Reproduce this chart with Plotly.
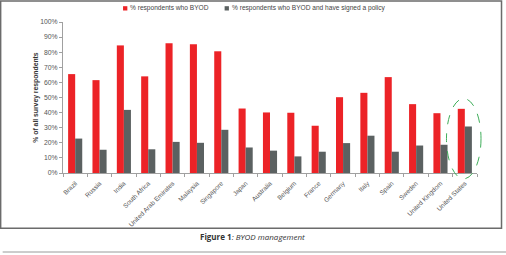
import plotly.graph_objects as go

countries = ["Brazil", "Russia", "India", "South Africa", "United Arab Emirates", "Malaysia",
             "Singapore", "Japan", "Australia", "Belgium", "France", "Germany", "Italy",
             "Spain", "Sweden", "United Kingdom", "United States"]
byod = [65.5, 61.5, 84.5, 64, 86, 85.2, 80.6, 42.7, 40.1, 39.9, 31.3, 50.2, 53.1,
        63.5, 45.6, 39.6, 42.5]
byod_policy = [22.8, 15.4, 41.8, 15.7, 20.6, 20.0, 28.6, 16.9, 14.8, 11.0, 14.1, 19.8,
               24.7, 14.1, 18.2, 18.7, 30.8]
series_names = ["% respondents who BYOD", "% respondents who BYOD and have signed a policy"]
series_colors = ["#ec2327", "#5b6161"]
caption_bold = "Figure 1"
caption_rest = ": BYOD management"

W, H = 506, 255
L, R, T, B = 63.3, 477.0, 21.7, 172.7
pw, ph = R - L, B - T


def px(x):
    return (x - L) / pw


def py(y):
    return (B - y) / ph


fig = go.Figure()
for vals, name, col in zip([byod, byod_policy], series_names, series_colors):
    fig.add_trace(go.Bar(x=countries, y=vals, name=name, showlegend=False,
                         marker=dict(color=col, line=dict(width=0))))

font_family = "Liberation Sans, Arial, sans-serif"

shapes = [
    # outer frame
    dict(type="rect", xref="paper", yref="paper", x0=px(1), x1=px(501.5), y0=py(228), y1=py(0.8),
         line=dict(color="#6b6b6b", width=1.5), fillcolor="rgba(0,0,0,0)", layer="below"),
    # bottom separator
    dict(type="line", xref="paper", yref="paper", x0=px(3), x1=px(506), y0=py(251.7), y1=py(251.7),
         line=dict(color="#9a9a9a", width=1)),
    # green highlight ellipse
    dict(type="circle", xref="paper", yref="paper", x0=px(446.5), x1=px(481), y0=py(178.5), y1=py(98.3),
         line=dict(color="#3fae5a", width=1, dash="dash"), fillcolor="rgba(0,0,0,0)"),
]

annotations = [
    dict(xref="paper", yref="paper", x=px(252.5), y=py(236.5), xanchor="center", yanchor="middle",
         showarrow=False,
         text="<b>" + caption_bold + "</b><i>" + caption_rest + "</i>",
         font=dict(family="Open Sans, Lato, sans-serif", size=8, color="#333333")),
]

# manual legend (small square swatches like the original)
legend_marker_x = [123.3, 224.8]
for mx, name, col in zip(legend_marker_x, series_names, series_colors):
    shapes.append(dict(type="rect", xref="paper", yref="paper", x0=px(mx), x1=px(mx + 4.3),
                       y0=py(10.2), y1=py(5.9), line=dict(width=0), fillcolor=col))
    annotations.append(dict(xref="paper", yref="paper", x=px(mx + 5.2), y=py(8), xanchor="left",
                            yanchor="middle", showarrow=False, text=name,
                            font=dict(family=font_family, size=6.6, color="#444444")))

fig.update_layout(
    width=W, height=H,
    margin=dict(l=L, r=W - R, t=T, b=H - B, pad=0, autoexpand=False),
    paper_bgcolor="white", plot_bgcolor="white",
    barmode="group", bargap=0.42, bargroupgap=0,
    font=dict(family=font_family, size=7, color="#555555"),
    showlegend=False,
    xaxis=dict(type="category", tickangle=-45, showline=True, linecolor="#a0a0a0", linewidth=1,
               ticks="outside", tickson="boundaries", ticklen=3, tickcolor="#a0a0a0",
               ticklabelstandoff=3,
               tickfont=dict(size=6.5, color="#555555"), showgrid=False, automargin=False),
    yaxis=dict(range=[0, 100], dtick=10, ticksuffix="%", showline=True, linecolor="#a0a0a0",
               linewidth=1, ticks="outside", ticklen=3, tickcolor="#a0a0a0", showgrid=False,
               zeroline=False, tickfont=dict(size=6.8, color="#555555"), automargin=False,
               title=dict(text="<b>% of all survey respondents</b>",
                          font=dict(size=6.8, color="#333333"), standoff=0)),
    shapes=shapes,
    annotations=annotations,
)

fig.write_html("out.html")
